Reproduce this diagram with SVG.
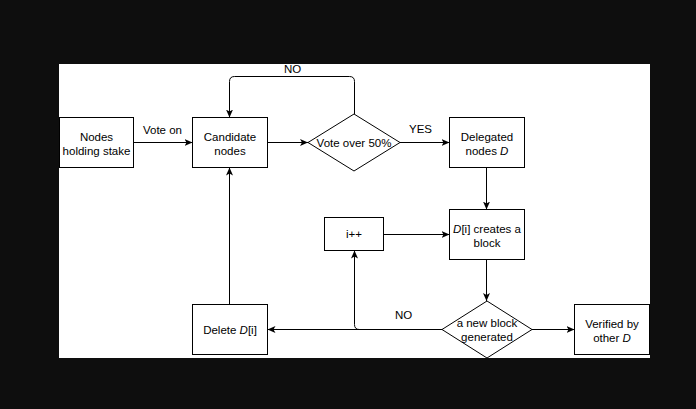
<svg xmlns="http://www.w3.org/2000/svg" width="696" height="409" viewBox="0 0 696 409">
  <defs>
    <style>
      .box { fill: #ffffff; stroke: #000000; stroke-width: 1; }
      .edge { fill: none; stroke: #000000; stroke-width: 1; marker-end: url(#arrow); }
      .edge-plain { fill: none; stroke: #000000; stroke-width: 1; }
      text { font-family: "Liberation Sans", Arial, sans-serif; font-size: 11.5px; fill: #000000; text-anchor: middle; }
    </style>
    <marker id="arrow" markerUnits="userSpaceOnUse" markerWidth="10" markerHeight="10" viewBox="0 0 10 10" refX="8" refY="3.5" orient="auto">
      <path d="M0,0 L8,3.5 L0,7 L2,3.5 Z" fill="#000000" stroke="none"/>
    </marker>
    <clipPath id="page">
      <rect x="59" y="64" width="591" height="294"/>
    </clipPath>
  </defs>

  <rect x="0" y="0" width="696" height="409" fill="#0e0e0e"/>
  <rect x="59" y="64" width="591" height="294" fill="#ffffff"/>

  <g clip-path="url(#page)">
    <g id="connectors">
      <path class="edge" d="M133.5,142.5 H192.5"/>
      <text x="162.5" y="134">Vote on</text>
      <path class="edge" d="M267.5,142.5 H308"/>
      <path class="edge" d="M354.5,114 V81.5 Q354.5,76.5 349.5,76.5 H234.5 Q229.5,76.5 229.5,81.5 V117.5"/>
      <text x="292.5" y="72.5">NO</text>
      <path class="edge" d="M400,142.5 H449.5"/>
      <text x="420.5" y="133">YES</text>
      <path class="edge" d="M486.5,167.5 V209.5"/>
      <path class="edge" d="M383.5,234.5 H449.5"/>
      <path class="edge" d="M486.5,259.5 V301"/>
      <path class="edge" d="M442,329.5 H267.5"/>
      <path class="edge" d="M442,329.5 H359.5 Q354.5,329.5 354.5,324.5 V250.5"/>
      <text x="403.5" y="319">NO</text>
      <path class="edge" d="M229.5,304.5 V167.5"/>
      <path class="edge" d="M532,329.5 H574.5"/>
    </g>

    <g id="nodes-holding-stake">
      <rect class="box" x="59.5" y="117.5" width="74" height="50"/>
      <text x="96.5" y="140.5">Nodes</text>
      <text x="96.5" y="154.5">holding stake</text>
    </g>

    <g id="candidate-nodes">
      <rect class="box" x="192.5" y="117.5" width="75" height="50"/>
      <text x="230" y="140.5">Candidate</text>
      <text x="230" y="154.5">nodes</text>
    </g>

    <g id="vote-over-50">
      <polygon class="box" points="308,142.5 354,114 400,142.5 354,171"/>
      <text x="354" y="146.5">Vote over 50%</text>
    </g>

    <g id="delegated-nodes">
      <rect class="box" x="449.5" y="117.5" width="75" height="50"/>
      <text x="487" y="140.5">Delegated</text>
      <text x="487" y="154.5">nodes <tspan font-style="italic">D</tspan></text>
    </g>

    <g id="di-creates-block">
      <rect class="box" x="449.5" y="209.5" width="75" height="50"/>
      <text x="487" y="232.5"><tspan font-style="italic">D</tspan>[i] creates a</text>
      <text x="487" y="246.5">block</text>
    </g>

    <g id="i-plus-plus">
      <rect class="box" x="324.5" y="217.5" width="59" height="33"/>
      <text x="354" y="238">i++</text>
    </g>

    <g id="delete-di">
      <rect class="box" x="192.5" y="304.5" width="75" height="50"/>
      <text x="230" y="333.5">Delete <tspan font-style="italic">D</tspan>[i]</text>
    </g>

    <g id="new-block-generated">
      <polygon class="box" points="442,329.5 487,301 532,329.5 487,358"/>
      <text x="487" y="326.5">a new block</text>
      <text x="487" y="340.5">generated</text>
    </g>

    <g id="verified-by-other-d">
      <rect class="box" x="574.5" y="304.5" width="75" height="50"/>
      <text x="612" y="327.5">Verified by</text>
      <text x="612" y="341.5">other <tspan font-style="italic">D</tspan></text>
    </g>
  </g>
</svg>
